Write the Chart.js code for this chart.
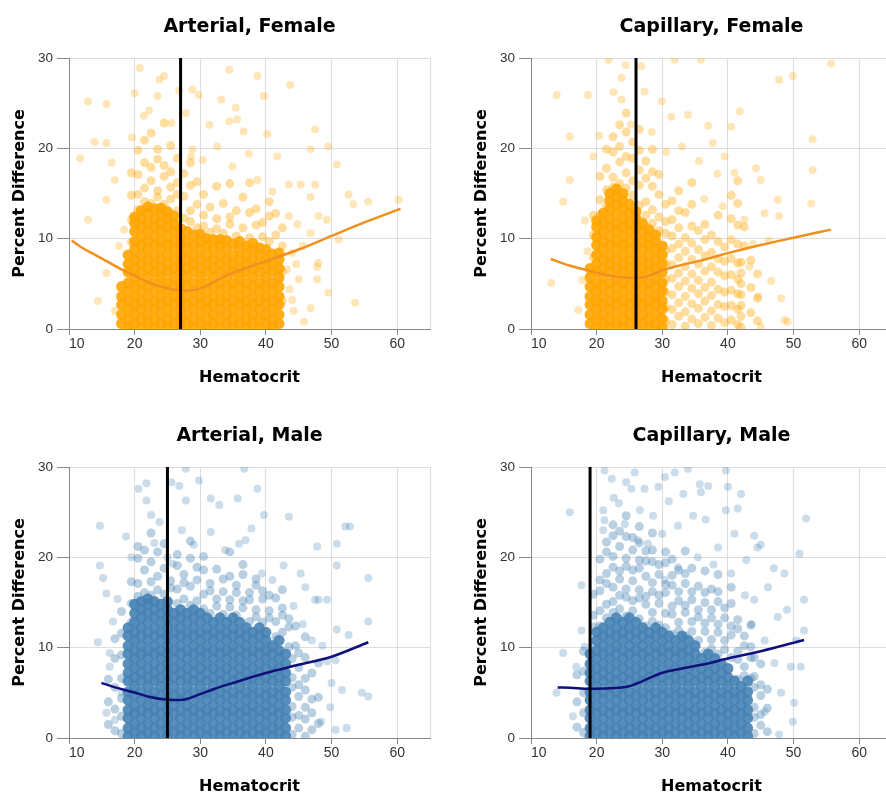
<!DOCTYPE html>
<html>
<head>
<meta charset="utf-8">
<title>Percent Difference vs Hematocrit</title>
<script src="https://cdn.jsdelivr.net/npm/chart.js@4.4.1/dist/chart.umd.min.js"></script>
<style>
  html, body { margin: 0; padding: 0; background: #fff; }
  body { width: 886px; height: 796px; overflow: hidden; position: relative; }
  .panel { position: absolute; width: 443px; height: 400px; }
</style>
</head>
<body>
<div class="panel" style="left:0;top:0"><canvas id="arterialFemale" width="443" height="400"></canvas></div>
<div class="panel" style="left:462px;top:0"><canvas id="capillaryFemale" width="443" height="400"></canvas></div>
<div class="panel" style="left:0;top:409px"><canvas id="arterialMale" width="443" height="400"></canvas></div>
<div class="panel" style="left:462px;top:409px"><canvas id="capillaryMale" width="443" height="400"></canvas></div>
<script>
// ejes
const xTicks = [10, 20, 30, 40, 50, 60, 65];
const yTicks = [0, 10, 20, 30];

// corte vertical (hematocrito) de cada panel
const cutArterialFemale = 27;
const cutCapillaryFemale = 26;
const cutArterialMale = 25;
const cutCapillaryMale = 19;

// tendencia suavizada [hematocrito, % diferencia]
const trendArterialFemale = [[10.4,9.8],[12,9],[14,8.2],[16,7.4],[18,6.6],[20,5.9],[22,5.2],[24,4.7],[26,4.35],[28,4.25],[30,4.5],[32,5.2],[34,5.9],[36,6.5],[40,7.5],[45,8.8],[50,10.3],[55,11.8],[60.5,13.3]];
const trendCapillaryFemale = [[13,7.75],[16,7],[19.7,6.3],[22,5.9],[24,5.7],[26,5.65],[28,5.9],[30,6.5],[33,7.1],[36,7.6],[40,8.4],[45,9.3],[50,10.1],[55.7,11]];
const trendArterialMale = [[14.95,6.1],[17,5.6],[19.7,5.1],[22,4.6],[24.7,4.25],[26,4.2],[27.8,4.3],[29.8,4.8],[32,5.4],[35,6.1],[40,7.2],[45,8.1],[50,9],[55.6,10.6]];
const trendCapillaryMale = [[14.06,5.6],[16,5.55],[18.9,5.45],[22,5.5],[24.8,5.7],[27,6.3],[29.9,7.2],[33,7.7],[36,8.1],[40,8.8],[45,9.6],[51.6,10.85]];

// zona densa: [hematocrito, y1, y2, ...]
const coreArterialFemale = [
  [18,0.6,1.6,2.7,3.6,4.7],
  [19,0.2,1.1,2.2,3.1,4.2,5.1,6.3,7.2,8.2],
  [20,0.6,1.6,2.7,3.6,4.7,5.7,6.7,7.7,8.8,9.7,10.8,11.7,12.4],
  [21,0.2,1.1,2.2,3.1,4.2,5.1,6.3,7.2,8.2,9.3,10.2,11.3,12.2,13.1],
  [22,0.6,1.6,2.7,3.6,4.7,5.7,6.7,7.7,8.8,9.7,10.8,11.7,12.8,13.5],
  [23,0.2,1.1,2.2,3.1,4.2,5.1,6.3,7.2,8.2,9.3,10.2,11.3,12.2,13.3],
  [24,0.6,1.6,2.7,3.6,4.7,5.7,6.7,7.7,8.8,9.7,10.8,11.7,12.8,13.4],
  [25,0.2,1.1,2.2,3.1,4.2,5.1,6.3,7.2,8.2,9.3,10.2,11.3,12.2,13],
  [26,0.6,1.6,2.7,3.6,4.7,5.7,6.7,7.7,8.8,9.7,10.8,11.7,12.5],
  [27,0.2,1.1,2.2,3.1,4.2,5.1,6.3,7.2,8.2,9.3,10.2,11.1],
  [28,0.6,1.6,2.7,3.6,4.7,5.7,6.7,7.7,8.8,9.7,10.8],
  [29,0.2,1.1,2.2,3.1,4.2,5.1,6.3,7.2,8.2,9.3,10.4],
  [30,0.6,1.6,2.7,3.6,4.7,5.7,6.7,7.7,8.8,9.7,10.5],
  [31,0.2,1.1,2.2,3.1,4.2,5.1,6.3,7.2,8.2,9.3,10],
  [32,0.6,1.6,2.7,3.6,4.7,5.7,6.7,7.7,8.8,9.9],
  [33,0.2,1.1,2.2,3.1,4.2,5.1,6.3,7.2,8.2,9.3,9.9],
  [34,0.6,1.6,2.7,3.6,4.7,5.7,6.7,7.7,8.8,9.8],
  [35,0.2,1.1,2.2,3.1,4.2,5.1,6.3,7.2,8.2,9.4],
  [36,0.6,1.6,2.7,3.6,4.7,5.7,6.7,7.7,8.8,9.7],
  [37,0.2,1.1,2.2,3.1,4.2,5.1,6.3,7.2,8.2,9.2],
  [38,0.6,1.6,2.7,3.6,4.7,5.7,6.7,7.7,8.8,9.5],
  [39,0.2,1.1,2.2,3.1,4.2,5.1,6.3,7.2,8.2,9],
  [40,0.6,1.6,2.7,3.6,4.7,5.7,6.7,7.7,8.8],
  [41,0.2,1.1,2.2,3.1,4.2,5.1,6.3,7.2,8.3],
  [42,0.6,1.6,2.7,3.6,4.7,5.7,6.7,7.7,8.4]
];
const coreCapillaryFemale = [
  [19,0.6,1.6,2.7,3.6,4.7,5.7,6.7],
  [20,0.2,1.1,2.2,3.1,4.2,5.1,6.3,7.2,8.2,9.3,10.2,11.3,12],
  [21,0.6,1.6,2.7,3.6,4.7,5.7,6.7,7.7,8.8,9.7,10.8,11.7,12.8],
  [22,0.2,1.1,2.2,3.1,4.2,5.1,6.3,7.2,8.2,9.3,10.2,11.3,12.2,13.3,14.2,15],
  [23,0.6,1.6,2.7,3.6,4.7,5.7,6.7,7.7,8.8,9.7,10.8,11.7,12.8,13.8,14.8,15.5],
  [24,0.2,1.1,2.2,3.1,4.2,5.1,6.3,7.2,8.2,9.3,10.2,11.3,12.2,13.3,14.2,15],
  [25,0.6,1.6,2.7,3.6,4.7,5.7,6.7,7.7,8.8,9.7,10.8,11.7,12.8,13.8],
  [26,0.2,1.1,2.2,3.1,4.2,5.1,6.3,7.2,8.2,9.3,10.2,11.3,12.2,13],
  [27,0.6,1.6,2.7,3.6,4.7,5.7,6.7,7.7,8.8,9.7,10.8,11.7],
  [28,0.2,1.1,2.2,3.1,4.2,5.1,6.3,7.2,8.2,9.3,10.2,11],
  [29,0.6,1.6,2.7,3.6,4.7,5.7,6.7,7.7,8.8,9.7,10.4],
  [30,0.2,1.1,2.2,3.1,4.2,5.1,6.3,7.2,8.2,9.2]
];
const coreArterialMale = [
  [19,0.2,1.1,2.2,3.1,4.2,5.1,6.3,7.2,8.2,9.3,10.2,11.3,12.2],
  [20,0.6,1.6,2.7,3.6,4.7,5.7,6.7,7.7,8.8,9.7,10.8,11.7,12.8,13.8,14.8],
  [21,0.2,1.1,2.2,3.1,4.2,5.1,6.3,7.2,8.2,9.3,10.2,11.3,12.2,13.3,14.2,15.1],
  [22,0.6,1.6,2.7,3.6,4.7,5.7,6.7,7.7,8.8,9.7,10.8,11.7,12.8,13.8,14.8,15.4],
  [23,0.2,1.1,2.2,3.1,4.2,5.1,6.3,7.2,8.2,9.3,10.2,11.3,12.2,13.3,14.2,15.1],
  [24,0.6,1.6,2.7,3.6,4.7,5.7,6.7,7.7,8.8,9.7,10.8,11.7,12.8,13.8,14.8],
  [25,0.2,1.1,2.2,3.1,4.2,5.1,6.3,7.2,8.2,9.3,10.2,11.3,12.2,13.3,14.2,15.1],
  [26,0.6,1.6,2.7,3.6,4.7,5.7,6.7,7.7,8.8,9.7,10.8,11.7,12.8,13.8],
  [27,0.2,1.1,2.2,3.1,4.2,5.1,6.3,7.2,8.2,9.3,10.2,11.3,12.2,13.3,14.2],
  [28,0.6,1.6,2.7,3.6,4.7,5.7,6.7,7.7,8.8,9.7,10.8,11.7,12.8,13.8],
  [29,0.2,1.1,2.2,3.1,4.2,5.1,6.3,7.2,8.2,9.3,10.2,11.3,12.2,13.3,14.2],
  [30,0.6,1.6,2.7,3.6,4.7,5.7,6.7,7.7,8.8,9.7,10.8,11.7,12.8,13.8],
  [31,0.2,1.1,2.2,3.1,4.2,5.1,6.3,7.2,8.2,9.3,10.2,11.3,12.2,13.3],
  [32,0.6,1.6,2.7,3.6,4.7,5.7,6.7,7.7,8.8,9.7,10.8,11.7,12.8],
  [33,0.2,1.1,2.2,3.1,4.2,5.1,6.3,7.2,8.2,9.3,10.2,11.3,12.2,13.3],
  [34,0.6,1.6,2.7,3.6,4.7,5.7,6.7,7.7,8.8,9.7,10.8,11.7,12.8],
  [35,0.2,1.1,2.2,3.1,4.2,5.1,6.3,7.2,8.2,9.3,10.2,11.3,12.2,13.3],
  [36,0.6,1.6,2.7,3.6,4.7,5.7,6.7,7.7,8.8,9.7,10.8,11.7,12.8],
  [37,0.2,1.1,2.2,3.1,4.2,5.1,6.3,7.2,8.2,9.3,10.2,11.3,12.2],
  [38,0.6,1.6,2.7,3.6,4.7,5.7,6.7,7.7,8.8,9.7,10.8,11.7],
  [39,0.2,1.1,2.2,3.1,4.2,5.1,6.3,7.2,8.2,9.3,10.2,11.3,12.2],
  [40,0.6,1.6,2.7,3.6,4.7,5.7,6.7,7.7,8.8,9.7,10.8,11.7],
  [41,0.2,1.1,2.2,3.1,4.2,5.1,6.3,7.2,8.2,9.3,10.2],
  [42,0.6,1.6,2.7,3.6,4.7,5.7,6.7,7.7,8.8,9.7,10.8],
  [43,0.2,1.1,2.2,3.1,4.2,5.1,6.3,7.2,8.2,9.3]
];
const coreCapillaryMale = [
  [19,0.2,1.1,2.2,3.1,4.2,5.1,6.3,7.2,8.2,9.3],
  [20,0.6,1.6,2.7,3.6,4.7,5.7,6.7,7.7,8.8,9.7,10.8,11.7],
  [21,0.2,1.1,2.2,3.1,4.2,5.1,6.3,7.2,8.2,9.3,10.2,11.3,12.2],
  [22,0.6,1.6,2.7,3.6,4.7,5.7,6.7,7.7,8.8,9.7,10.8,11.7,12.8],
  [23,0.2,1.1,2.2,3.1,4.2,5.1,6.3,7.2,8.2,9.3,10.2,11.3,12.2,13.3],
  [24,0.6,1.6,2.7,3.6,4.7,5.7,6.7,7.7,8.8,9.7,10.8,11.7,12.8],
  [25,0.2,1.1,2.2,3.1,4.2,5.1,6.3,7.2,8.2,9.3,10.2,11.3,12.2,13.3],
  [26,0.6,1.6,2.7,3.6,4.7,5.7,6.7,7.7,8.8,9.7,10.8,11.7,12.8],
  [27,0.2,1.1,2.2,3.1,4.2,5.1,6.3,7.2,8.2,9.3,10.2,11.3,12.2],
  [28,0.6,1.6,2.7,3.6,4.7,5.7,6.7,7.7,8.8,9.7,10.8,11.7],
  [29,0.2,1.1,2.2,3.1,4.2,5.1,6.3,7.2,8.2,9.3,10.2,11.3,12.2],
  [30,0.6,1.6,2.7,3.6,4.7,5.7,6.7,7.7,8.8,9.7,10.8,11.7],
  [31,0.2,1.1,2.2,3.1,4.2,5.1,6.3,7.2,8.2,9.3,10.2,11.3],
  [32,0.6,1.6,2.7,3.6,4.7,5.7,6.7,7.7,8.8,9.7,10.8],
  [33,0.2,1.1,2.2,3.1,4.2,5.1,6.3,7.2,8.2,9.3,10.2,11.3],
  [34,0.6,1.6,2.7,3.6,4.7,5.7,6.7,7.7,8.8,9.7,10.8],
  [35,0.2,1.1,2.2,3.1,4.2,5.1,6.3,7.2,8.2,9.3,10.2],
  [36,0.6,1.6,2.7,3.6,4.7,5.7,6.7,7.7,8.8],
  [37,0.2,1.1,2.2,3.1,4.2,5.1,6.3,7.2,8.2,9.3],
  [38,0.6,1.6,2.7,3.6,4.7,5.7,6.7,7.7,8.8],
  [39,0.2,1.1,2.2,3.1,4.2,5.1,6.3,7.2,8.2],
  [40,0.6,1.6,2.7,3.6,4.7,5.7,6.7,7.7],
  [41,0.2,1.1,2.2,3.1,4.2,5.1,6.3],
  [42,0.6,1.6,2.7,3.6,4.7,5.7],
  [43,0.2,1.1,2.2,3.1,4.2,5.1,6.3]
];

// zona intermedia: [hematocrito, y1, y2, ...]
const midArterialFemale = [
  [19.5,9.6,12.1,14.8,17.3],[20.5,13.2,14.9,17.1,19.8],[21.5,14.1,15.6,18.4,20.9],[22.5,13.9,16.4,17.9,21.7],
  [23.5,14.6,15.3,18.8,19.9],[24.5,13.8,16.9,18.1,22.8],[25.5,14.4,15.7,17.4,20.3],[26.5,13.1,14.9,16.2,18.9],
  [27.5,12.3,14.7,17.2],[28.5,11.9,13.1,15.9,18.4],[29.5,11.2,13.8,16.3],[30.5,11.4,12.6,14.9],[31.5,10.7,13.5],
  [32.5,11.1,12.2,15.8],[33.5,10.6,13.9],[34.5,11.6,12.4,16.1],[35.5,10.3,13.1],[36.5,11.2,14.6],
  [37.5,10.1,12.9,16.2],[38.5,11.5,13.3],[39.5,10.2,11.8],[40.5,9.7,12.5,14.1],[41.5,10.4,12.8],[42.5,3.1,6.4,9.2,11.2]
];
const midCapillaryFemale = [
  [19.5,7.9,10.4,12.6],[20.5,12.6,14.3,16.9],[21.5,13.6,15.4,17.8,19.9],[22.5,15.7,16.8,19.6,21.3],
  [23.5,16.1,18.5,20.2,22.6],[24.5,15.6,17.3,19.1,21.8,23.9],[25.5,14.8,16.4,18.9,20.7],[26.5,13.7,15.9,17.6,19.8,22.1],
  [27.5,12.6,14.1,16.7,18.6],[28.5,11.7,13.2,15.8,17.4,19.9],[29.5,10.9,12.4,14.9,17.1],
  [30.5,0.9,2.4,4.1,5.5,7.3,8.7,10.6,11.9,13.8],[31.5,0.5,2.2,3.8,5.6,7.1,8.9,10.3,12.1,14.2],
  [32.5,1.4,2.9,4.7,6.2,7.9,9.4,11.2,13.1,15.3],[33.5,0.3,1.9,3.6,5.3,6.9,8.6,10.1,12.9],
  [34.5,1.1,2.8,4.5,6.1,7.7,9.5,11.4,13.8,16.2],[35.5,0.6,2.3,3.9,5.4,7.2,8.8,10.9],
  [36.5,1.3,3.1,4.6,6.4,8.1,9.9,11.6],[37.5,0.4,2,3.7,5.2,6.9,8.5,10.4],[38.5,1.2,2.7,4.4,6.3,7.8,9.7,12.6],
  [39.5,0.7,2.5,4.1,5.9,7.5,9.1],[40.5,1,2.6,4.3,6,7.8,9.9,12.2,14.8],[41.5,0.5,2.2,3.9,5.5,7.3,9.4,11.5,13.9,16.4],
  [42,0.2,1.4,2.6,3.8,5,6.2,7.4],[42.5,9.2,11.3],[43.5,1.8,4.6,7.6],[44.5,0.9,3.4,6.1]
];
const midArterialMale = [
  [16,1.5,4,6.5],[17,0.8,3.2,5.6,8.8,11],[18,0.5,2.4,4.4,6.6,9.2,11.6,14],[19.5,12.8,14.9,17.3],
  [20.5,15.7,17.1,19.9,21.2],[21.5,16.1,18.6,20.8],[22.5,15.8,17.3,19.5,22.7],[23.5,16.4,17.9,20.6],
  [24.5,15.9,18.8,21.5],[25.5,16.6,17.4],[26.5,14.9,16.5,19.1,20.3],[27.5,15.4,17.2,18.1],[28.5,14.7,16.8,19.9,21.8],
  [29.5,15.2,17.5,18.9],[30.5,14.3,15.9,18.6,20.1],[31.5,13.8,16.3,17.1],[32.5,14.6,15.4,18.7],[33.5,13.7,16.2,17.6],
  [34.5,14.5,15.3,17.9,20.6],[35.5,13.6,16.1,16.9],[36.5,14.4,15.2,18.1,19.2],[37.5,12.9,15.3,16.1],
  [38.5,13.4,14.2,16.9,17.6],[39.5,12.8,15.4,16.3],[40.5,13.3,14.1,15.8],[41.5,11.2,12.9,15.5],
  [42.5,11.7,13.6,14.4,16.4],[43.5,10.1,12.3,13.2],[44,0.4,2.3,3.5,5.6,6.7,8.8],[44.5,10.2,12.4],
  [45,1.1,2.5,4.6,5.9,7.8,9.4],[46,0.2,2.1,3.4,5.3,6.6,8.9,11.2],[47,0.9,2.8,4.3,7.2],[48,1.6,4.5,8.3]
];
const midCapillaryMale = [
  [17,1.2,4,7],[18,0.6,2.8,5,7.4,9.6],[19.5,10.1,12.3,13.6,15.9],[20.5,12.4,14.1,16.3,17.5,19.8],
  [21.5,13.3,14.8,17.1,18.2,20.6,21.7],[22.5,13.9,15.1,16.7,18.9,20.1,22.4,23.6],[23.5,14.3,15.8,17.6,18.5,21.2,22.9],
  [24.5,13.5,15.6,16.5,19,19.9,22.3,24.6],[25.5,14.1,15.2,17.4,18.6,20.8,22.2],[26.5,13.2,15.5,16.4,18.8,19.7,21.6,23.4],
  [27.5,12.4,14.8,15.7,17.9,19.6,20.7],[28.5,12.9,13.9,16.2,17.2,19.5,20.8,22.7],[29.5,12.5,14.9,15.8,18.1,19.2],
  [30.5,12.2,13.8,16.1,17,19.4,20.6],[31.5,11.5,13.7,14.6,16.9,18,19.8],[32.5,11.9,12.8,15.2,16.2,18.6],
  [33.5,11.3,13.9,14.7,17.1,18.2,20.7],[34.5,11.8,12.9,15.3,16.2,18.8],[35.5,10.8,13.4,14.2,16.8],
  [36.5,9.5,11.8,12.7,15,16.1,18.5],[37.5,9.9,10.9,13.3,14.2,16.5],[38.5,9.3,11.7,12.6,15.1,16.2,18.1],
  [39.5,9.8,10.8,13.3,14.4],[40.5,8.9,11.4,12.4,14.9,16.7],[41.5,6.5,8.7,9.6,12.1,13.1],[42.5,6.9,7.9,10.2,11.3],
  [43.5,6.6,8.9,10.1,12.5],[44,0.5,2.3,3.4,5.6,6.8,8.9],[45,1.4,2.6,4.7,5.9,8.2],[46,0.7,3.3,5.4]
];

// puntos dispersos [hematocrito, % diferencia]
const sparseArterialFemale = [[12.9,25.2],[15.7,24.9],[11.7,18.9],[13.9,20.7],[15.7,20.6],[12.9,12.1],[15.7,14.3],[15.7,6.2],[14.4,3.1],[17,2],[17,16.5],[16.5,18.4],[20.8,28.9],[20,26.1],[23.8,27.6],[24.5,28],[23.5,25.8],[28.8,26.5],[29.8,25.9],[27.8,23.9],[28.8,19.9],[28.6,19.1],[34.4,28.7],[38.7,28],[39.7,25.8],[35.4,24.5],[35.6,23.2],[36.6,21.9],[34.4,23],[43.7,27],[32.6,20.2],[30.4,18.7],[34.9,18],[38.7,16.5],[41,15.2],[43.5,16],[41.7,19.1],[47.5,22.1],[46.8,19.9],[49.5,20.2],[50.8,18.2],[45.3,16],[47.5,16],[52.6,14.9],[55.6,14.1],[60.2,14.3],[46.8,14.6],[48,12.5],[49.3,12.1],[46.8,10.6],[47.8,6.9],[48,7.3],[47.8,5.5],[49.5,4],[46.8,2.3],[45.8,0.8],[53.6,2.9],[53.3,13.8],[51.1,9.9],[44,8.4],[45,5.5],[44,3.2],[43.5,12.5],[22.2,24.2],[25.6,22.8],[21.4,23.6],[19.6,21.2],[26.8,26.4],[31.4,22.6],[33.2,25.4],[37.4,19.4],[40.2,21.6],[44.8,11.6],[45.6,9.2],[43.2,6.6],[43.6,4.4],[44.2,2],[44.6,7.2],[18.4,11],[17.6,9.2]];
const sparseCapillaryFemale = [[13.9,25.9],[13.1,5.1],[15.9,21.3],[15.9,16.5],[14.9,14.1],[17.2,2.1],[18.7,25.9],[19.5,19.1],[21.8,29.8],[23.8,27.8],[23.8,25.4],[27.3,26.3],[26.8,29.1],[31.9,29.8],[35.9,29.8],[29.9,25.2],[31.4,23.5],[33.9,23.7],[37,22.5],[41.8,24.1],[40.5,22.4],[37.7,20.6],[39.5,19.1],[41,17.3],[44.3,17.8],[47.8,27.6],[49.9,28],[55.7,29.4],[52.9,21],[52.9,17.6],[52.7,13.9],[47.6,14.3],[47.8,12.5],[45.6,12.8],[46.6,5.3],[48.1,3.4],[48.6,1],[49.1,0.8],[45,0.3],[43.3,6.9],[42.5,12.1],[45,16.5],[22.6,26.2],[25.2,22.6],[20.4,21.4],[28.4,21.8],[33,20.2],[35.6,18.6],[38.4,17.2],[30.6,19.6],[18.2,12],[18.6,8.6],[17.8,5.4],[36.4,14.4],[39.2,13.6],[43.8,9.4],[44.6,3.6],[46.2,9.8],[24.4,29.2]];
const sparseArterialMale = [[14.7,23.5],[14.7,19.1],[15.2,17.7],[15.7,16],[16.7,12.9],[16.2,9.4],[16.2,7.9],[15.7,2.8],[17,2],[18,5],[18.7,22.3],[19.5,20],[21.8,28.2],[21.8,26.3],[22.5,24.7],[23.8,23.9],[25.6,28.3],[26.8,27.9],[27.8,29.8],[27.8,26.3],[29.8,28.5],[25,20],[25.8,19.3],[31.6,26.5],[32.9,25.8],[35.7,26.5],[36.7,29.8],[38.7,27.6],[39.7,24.7],[43.5,24.5],[31.6,22.8],[35.9,21.5],[36.9,21.9],[39.4,18.2],[41,17.5],[42.7,19.1],[47.8,21.2],[50.8,21.5],[50.8,19.1],[52.1,23.4],[52.8,23.4],[55.6,17.7],[55.6,12.9],[52.6,11.4],[50.8,12],[50.6,8.6],[49.3,8.5],[51.6,5.3],[54.6,5],[55.6,4.6],[52.3,1.1],[50.6,0.9],[50,6.1],[48,15.3],[49.3,15.3],[45.3,18.2],[46,16.7],[47.5,15.3],[20.6,27.6],[23,21.6],[27.2,23],[29,21.4],[33.8,20.8],[37.8,23.2],[44.2,14.6],[45.6,12.6],[47,10.8],[48.6,10.2],[49.8,3.4],[48.4,1.8],[14.4,10.6],[17.4,15.4]];
const sparseCapillaryMale = [[15.9,25],[14.9,9.4],[13.9,5],[16.9,7.9],[17.7,16.9],[17.7,11.9],[18.2,10.1],[16.4,2.4],[21.2,29.6],[22.3,28.7],[21,25.2],[21.2,24.1],[21,23],[24.5,28.3],[25.3,27.6],[27.3,27.6],[29.4,27.8],[30.4,28.9],[31.9,29.4],[33.9,29.8],[35.7,28.1],[35.9,27.2],[37,27.9],[39.7,29.6],[40,27.8],[39.7,25.2],[41.5,25.4],[42,27],[34.7,24.6],[32.4,23.5],[24.3,23.7],[26.3,21.9],[27.8,21.5],[44.5,21.1],[44,22.4],[50.9,20.4],[51.9,24.3],[51.6,15.3],[51.6,11.9],[50.4,10.8],[51.1,7.9],[49.6,7.9],[47.1,8.3],[48.1,5],[50.1,3.9],[49.9,1.8],[45.6,2.9],[47.8,0.4],[48.6,18.2],[46.1,16.7],[47.6,13.4],[45.6,10.8],[44,15.3],[42.8,19.7],[40.5,18.2],[41,22.6],[38.5,21.1],[35.4,20],[32.4,18.9],[30.4,17.5],[23.4,26],[26.6,25.2],[28.6,24.6],[31,26.2],[33.2,27],[36.6,24.2],[37.8,19.2],[30,22.6],[25.8,29.4],[22.6,26.6],[42.6,15.8],[43.6,12.6],[45,21.4],[47,18.8],[49,14.2]];

const orange = a => `rgba(255,165,0,${a})`;
const steel = a => `rgba(70,130,180,${a})`;

const tickFont = { family: "'Liberation Sans', Arial, sans-serif", size: 13.5 };
const boldFont = size => ({ family: "'DejaVu Sans', Verdana, sans-serif", size: size, weight: 'bold' });

function fromColumns(cols) {
    return cols.flatMap(c => c.slice(1).map(y => ({ x: c[0], y: y })));
}

function fromPairs(pairs) {
    return pairs.map(p => ({ x: p[0], y: p[1] }));
}

function drawPanel(id, title, core, mid, sparse, trend, cut, fill, lineColor) {
    new Chart(document.getElementById(id), {
        type: 'scatter',
        data: {
            datasets: [
                {
                    type: 'line',
                    data: [{ x: cut, y: yTicks[0] }, { x: cut, y: yTicks[yTicks.length - 1] }],
                    borderColor: '#000',
                    borderWidth: 3,
                    pointRadius: 0,
                    order: 0
                },
                {
                    type: 'line',
                    data: fromPairs(trend),
                    borderColor: lineColor,
                    borderWidth: 2.5,
                    pointRadius: 0,
                    cubicInterpolationMode: 'monotone',
                    order: 1
                },
                {
                    data: fromColumns(core),
                    pointRadius: 5.5,
                    pointBackgroundColor: fill(0.9),
                    pointBorderWidth: 0,
                    order: 2
                },
                {
                    data: fromColumns(mid),
                    pointRadius: 4.5,
                    pointBackgroundColor: fill(0.38),
                    pointBorderWidth: 0,
                    order: 3
                },
                {
                    data: fromPairs(sparse),
                    pointRadius: 4,
                    pointBackgroundColor: fill(0.28),
                    pointBorderWidth: 0,
                    order: 4
                }
            ]
        },
        options: {
            responsive: false,
            animation: false,
            events: [],
            layout: { padding: { left: 0, right: 13, top: 0, bottom: 0 } },
            plugins: {
                legend: { display: false },
                tooltip: { enabled: false },
                title: {
                    display: true,
                    text: title,
                    fullSize: false,
                    color: '#000',
                    font: boldFont(19),
                    padding: { top: 15.6, bottom: 19.6 }
                }
            },
            scales: {
                x: {
                    type: 'linear',
                    min: xTicks[0],
                    max: xTicks[xTicks.length - 1],
                    afterBuildTicks: s => { s.ticks = xTicks.map(v => ({ value: v })); },
                    afterFit: s => { s.height = 71; },
                    ticks: {
                        callback: v => (v === 65 ? '' : v),
                        align: 'inner',
                        autoSkip: false,
                        maxRotation: 0,
                        color: '#333',
                        font: { family: tickFont.family, size: 14 },
                        padding: 1
                    },
                    grid: {
                        color: '#ddd',
                        tickLength: 6,
                        tickColor: c => (c.tick && c.tick.value === 65 ? 'rgba(0,0,0,0)' : '#888')
                    },
                    border: { color: '#888' },
                    title: {
                        display: true,
                        text: 'Hematocrit',
                        color: '#000',
                        font: boldFont(16),
                        padding: { top: 0, bottom: 12.4 }
                    }
                },
                y: {
                    type: 'linear',
                    min: yTicks[0],
                    max: yTicks[yTicks.length - 1],
                    afterBuildTicks: s => { s.ticks = yTicks.map(v => ({ value: v })); },
                    afterFit: s => { s.width = 69; },
                    ticks: { color: '#333', font: tickFont, padding: 4 },
                    grid: { color: '#ddd', tickLength: 12, tickColor: '#888' },
                    border: { color: '#888' },
                    title: {
                        display: true,
                        text: 'Percent Difference',
                        color: '#000',
                        font: boldFont(16),
                        padding: { top: 10.4, bottom: 0 }
                    }
                }
            }
        }
    });
}

drawPanel('arterialFemale', 'Arterial, Female', coreArterialFemale, midArterialFemale, sparseArterialFemale, trendArterialFemale, cutArterialFemale, orange, '#f0901f');
drawPanel('capillaryFemale', 'Capillary, Female', coreCapillaryFemale, midCapillaryFemale, sparseCapillaryFemale, trendCapillaryFemale, cutCapillaryFemale, orange, '#f0901f');
drawPanel('arterialMale', 'Arterial, Male', coreArterialMale, midArterialMale, sparseArterialMale, trendArterialMale, cutArterialMale, steel, '#10107a');
drawPanel('capillaryMale', 'Capillary, Male', coreCapillaryMale, midCapillaryMale, sparseCapillaryMale, trendCapillaryMale, cutCapillaryMale, steel, '#10107a');
</script>
</body>
</html>
